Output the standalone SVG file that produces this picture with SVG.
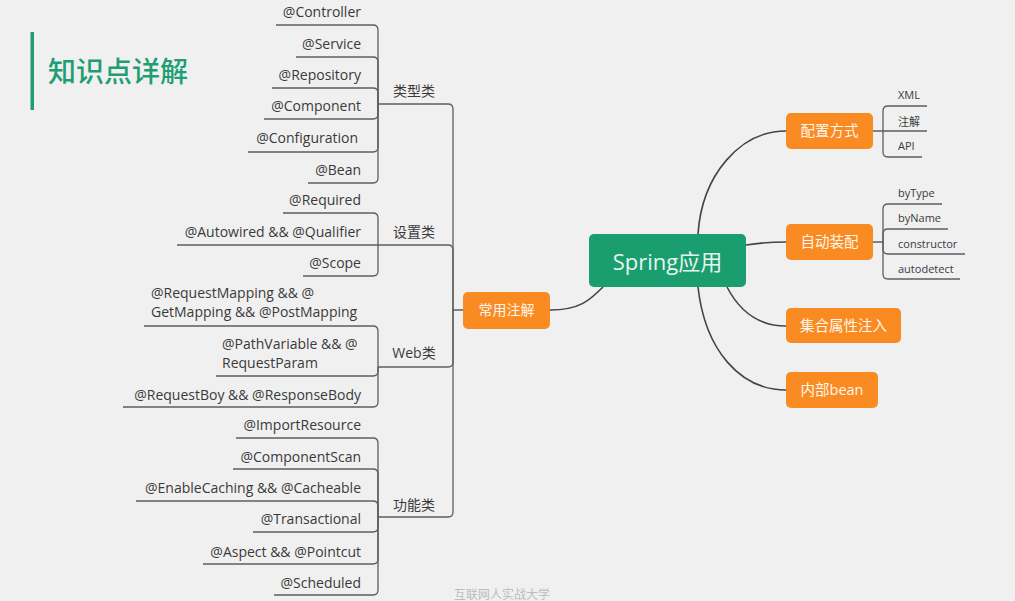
<svg xmlns="http://www.w3.org/2000/svg" width="1015" height="601" viewBox="0 0 1015 601">
<style>
.t{font-family:"Open Sans","Noto Sans CJK SC",sans-serif;fill:#3a3a3a;font-size:14px}
.r{text-anchor:end}
.m{text-anchor:middle}
.s{font-size:11px}
.br{fill:none;stroke:#5e5e5e;stroke-width:1.3}
.mc{fill:none;stroke:#444;stroke-width:1.6}
.on{fill:#f98b22}
.ot{font-family:"Open Sans","Noto Sans CJK SC",sans-serif;fill:#fff6ec;font-size:14.5px;text-anchor:middle}
</style>
<rect width="1015" height="601" fill="#f0f0f0"/>
<g id="title">
<rect x="30.5" y="32" width="3.5" height="78" fill="#1f9e73"/>
<text x="48" y="82" style="font-family:'Noto Sans CJK SC',sans-serif;font-size:28px;font-weight:500;fill:#1f9e73">知识点详解</text>
</g>
<g id="connectors">
<path class="mc" d="M550,310 C580,310 590,300 603,287"/>
<path class="mc" d="M698,234 C702,175 740,131 786,131"/>
<path class="mc" d="M746,245 C765,242 775,242 786,242"/>
<path class="mc" d="M727,287 C740,312 760,326 786,326"/>
<path class="mc" d="M698,287 C705,350 740,390 786,390"/>
<path class="br" d="M463,310 H453 V109 Q453,104 448,104 H378"/>
<path class="br" d="M453,310 V250 Q453,245 448,245 H378"/>
<path class="br" d="M453,310 V362 Q453,367 448,367 H378"/>
<path class="br" d="M453,310 V512 Q453,517 448,517 H378"/>
<path class="br" d="M378,104 V30 Q378,25 373,25 H276"/>
<path class="br" d="M378,104 V62 Q378,57 373,57 H296"/>
<path class="br" d="M378,104 V93 Q378,88 373,88 H272"/>
<path class="br" d="M378,104 V114 Q378,119 373,119 H264"/>
<path class="br" d="M378,104 V147 Q378,152 373,152 H248"/>
<path class="br" d="M378,104 V178 Q378,183 373,183 H308"/>
<path class="br" d="M378,245 V218 Q378,213 373,213 H283"/>
<path class="br" d="M378,245 H177"/>
<path class="br" d="M378,245 V271 Q378,276 373,276 H303"/>
<path class="br" d="M378,367 V331 Q378,326 373,326 H144"/>
<path class="br" d="M378,367 V371 Q378,376 373,376 H216"/>
<path class="br" d="M378,367 V402 Q378,407 373,407 H123"/>
<path class="br" d="M378,517 V443 Q378,438 373,438 H236"/>
<path class="br" d="M378,517 V474 Q378,469 373,469 H233"/>
<path class="br" d="M378,517 V506 Q378,501 373,501 H136"/>
<path class="br" d="M378,517 V527 Q378,532 373,532 H253"/>
<path class="br" d="M378,517 V559 Q378,564 373,564 H203"/>
<path class="br" d="M378,517 V590 Q378,595 373,595 H274"/>
<path class="br" d="M873,131 H883 V111 Q883,106 888,106 H927"/>
<path class="br" d="M883,131 H927"/>
<path class="br" d="M883,131 V152 Q883,157 888,157 H922"/>
<path class="br" d="M873,242 H883 V209 Q883,204 888,204 H942"/>
<path class="br" d="M883,242 V234 Q883,229 888,229 H948"/>
<path class="br" d="M883,242 V249 Q883,254 888,254 H965"/>
<path class="br" d="M883,242 V274 Q883,279 888,279 H960"/>
</g>
<g id="root">
<rect x="589" y="234" width="157" height="53" rx="5" fill="#1a9d6f"/>
<text x="667.5" y="270" style="font-family:'Open Sans','Noto Sans CJK SC',sans-serif;font-size:22px;fill:#e6f5ee;text-anchor:middle">Spring应用</text>
</g>
<g id="n-common">
<rect class="on" x="463" y="292" width="87" height="37" rx="5"/>
<text class="ot" x="506.5" y="315" style="font-size:14px">常用注解</text>
</g>
<g id="n-type"><text class="t m" x="414" y="96">类型类</text></g>
<g id="n-type-items">
<text class="t r" x="361" y="17">@Controller</text>
<text class="t r" x="361" y="49">@Service</text>
<text class="t r" x="361" y="80">@Repository</text>
<text class="t r" x="361" y="111">@Component</text>
<text class="t r" x="358" y="143">@Configuration</text>
<text class="t r" x="361" y="175">@Bean</text>
</g>
<g id="n-set"><text class="t m" x="414" y="237">设置类</text></g>
<g id="n-set-items">
<text class="t r" x="361" y="205">@Required</text>
<text class="t r" x="361" y="237">@Autowired &amp;&amp; @Qualifier</text>
<text class="t r" x="361" y="268">@Scope</text>
</g>
<g id="n-web"><text class="t m" x="414" y="358">Web类</text></g>
<g id="n-web-items">
<text class="t" x="151" y="298">@RequestMapping &amp;&amp; @</text>
<text class="t" x="151" y="317">GetMapping &amp;&amp; @PostMapping</text>
<text class="t" x="222" y="349">@PathVariable &amp;&amp; @</text>
<text class="t" x="222" y="368">RequestParam</text>
<text class="t r" x="361" y="400">@RequestBoy &amp;&amp; @ResponseBody</text>
</g>
<g id="n-func"><text class="t m" x="414" y="510">功能类</text></g>
<g id="n-func-items">
<text class="t r" x="361" y="430">@ImportResource</text>
<text class="t r" x="361" y="462">@ComponentScan</text>
<text class="t r" x="361" y="493">@EnableCaching &amp;&amp; @Cacheable</text>
<text class="t r" x="361" y="524">@Transactional</text>
<text class="t r" x="361" y="557">@Aspect &amp;&amp; @Pointcut</text>
<text class="t r" x="361" y="588">@Scheduled</text>
</g>
<g id="n-config">
<rect class="on" x="786" y="113" width="87" height="36" rx="5"/>
<text class="ot" x="829.5" y="136">配置方式</text>
<text class="t s" x="898" y="99">XML</text>
<text class="t s" x="898" y="126">注解</text>
<text class="t s" x="898" y="150">API</text>
</g>
<g id="n-auto">
<rect class="on" x="786" y="224" width="87" height="36" rx="5"/>
<text class="ot" x="829.5" y="247">自动装配</text>
<text class="t s" x="898" y="197">byType</text>
<text class="t s" x="898" y="222">byName</text>
<text class="t s" x="898" y="248">constructor</text>
<text class="t s" x="898" y="273">autodetect</text>
</g>
<g id="n-collection">
<rect class="on" x="786" y="308" width="115" height="35" rx="5"/>
<text class="ot" x="843.5" y="331">集合属性注入</text>
</g>
<g id="n-inner">
<rect class="on" x="786" y="372" width="92" height="36" rx="5"/>
<text class="ot" x="832" y="395">内部bean</text>
</g>
<g id="watermark">
<text x="454" y="599" style="font-family:'Noto Sans CJK SC',sans-serif;font-size:12px;fill:#bdbdbd">互联网人实战大学</text>
</g>
</svg>
